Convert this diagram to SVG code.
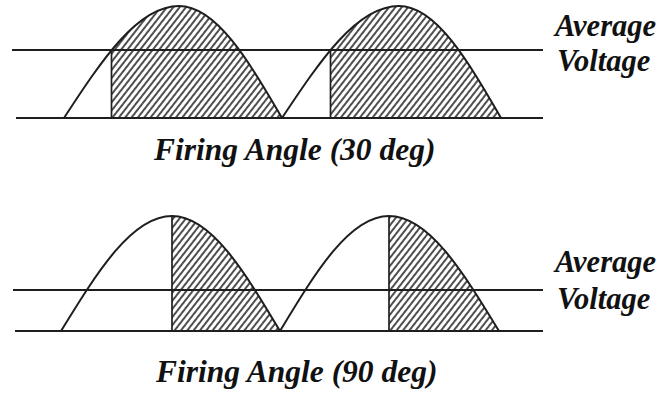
<svg xmlns="http://www.w3.org/2000/svg" width="664" height="400" viewBox="0 0 664 400">
<style>
.ln{stroke:#1e1e1e;stroke-width:2;fill:none}
.cv{stroke:#1e1e1e;stroke-width:2;fill:none}
.vt{stroke:#1e1e1e;stroke-width:1.7;fill:none}
.hz{fill:url(#hatch);stroke:none}
.lbl{font-family:'Liberation Serif','DejaVu Serif','Times New Roman',serif;font-weight:bold;font-style:italic;fill:#111}
.side{font-size:30.5px}
.cap{font-size:31.5px}
</style>
<defs>
<pattern id="hatch" width="5" height="5" patternUnits="userSpaceOnUse" patternTransform="rotate(38)">
<line x1="1" y1="0" x2="1" y2="5" stroke="#222" stroke-width="1.6"/>
</pattern>
<clipPath id="c1"><rect x="111.5" y="0" width="200" height="130"/></clipPath>
<clipPath id="c2"><rect x="330.5" y="0" width="200" height="130"/></clipPath>
<clipPath id="c3"><rect x="172" y="200" width="200" height="140"/></clipPath>
<clipPath id="c4"><rect x="389" y="200" width="200" height="140"/></clipPath>
</defs>
<rect width="664" height="400" fill="#fff"/>

<g id="panel-30deg">
<g id="hatch-30">
<path class="hz" clip-path="url(#c1)" d="M64,118 C101.5,60.6 137.4,6 179,6 C216.3,6 248.4,60.6 282,118 Z"/>
<path class="hz" clip-path="url(#c2)" d="M282,118 C320.2,60.6 356.7,6 399,6 C435.9,6 467.7,60.6 501,118 Z"/>
</g>
<line class="ln" x1="12" y1="50" x2="543" y2="50"/>
<line class="ln" x1="16" y1="118" x2="543" y2="118"/>
<path class="cv" d="M64,118 C101.5,60.6 137.4,6 179,6 C216.3,6 248.4,60.6 282,118"/>
<path class="cv" d="M282,118 C320.2,60.6 356.7,6 399,6 C435.9,6 467.7,60.6 501,118"/>
<line class="vt" x1="111.5" y1="50" x2="111.5" y2="118"/>
<line class="vt" x1="330.5" y1="50" x2="330.5" y2="118"/>
<text class="lbl side" x="555" y="36">Average</text>
<text class="lbl side" x="557" y="71">Voltage</text>
<text class="lbl cap" x="154" y="160">Firing Angle (30 deg)</text>
</g>

<g id="panel-90deg">
<g id="hatch-90">
<path class="hz" clip-path="url(#c3)" d="M61,331 C97.2,272.1 131.8,216 172,216 C211.1,216 244.8,272.1 280,331 Z"/>
<path class="hz" clip-path="url(#c4)" d="M280,331 C315.5,272.1 349.6,216 389,216 C428.8,216 463.1,272.1 499,331 Z"/>
</g>
<line class="ln" x1="13" y1="290" x2="543" y2="290"/>
<line class="ln" x1="15" y1="331" x2="543" y2="331"/>
<path class="cv" d="M61,331 C97.2,272.1 131.8,216 172,216 C211.1,216 244.8,272.1 280,331"/>
<path class="cv" d="M280,331 C315.5,272.1 349.6,216 389,216 C428.8,216 463.1,272.1 499,331"/>
<line class="vt" x1="172" y1="216" x2="172" y2="331"/>
<line class="vt" x1="389" y1="216" x2="389" y2="331"/>
<text class="lbl side" x="555" y="272">Average</text>
<text class="lbl side" x="557" y="309">Voltage</text>
<text class="lbl cap" x="156" y="382">Firing Angle (90 deg)</text>
</g>
</svg>
